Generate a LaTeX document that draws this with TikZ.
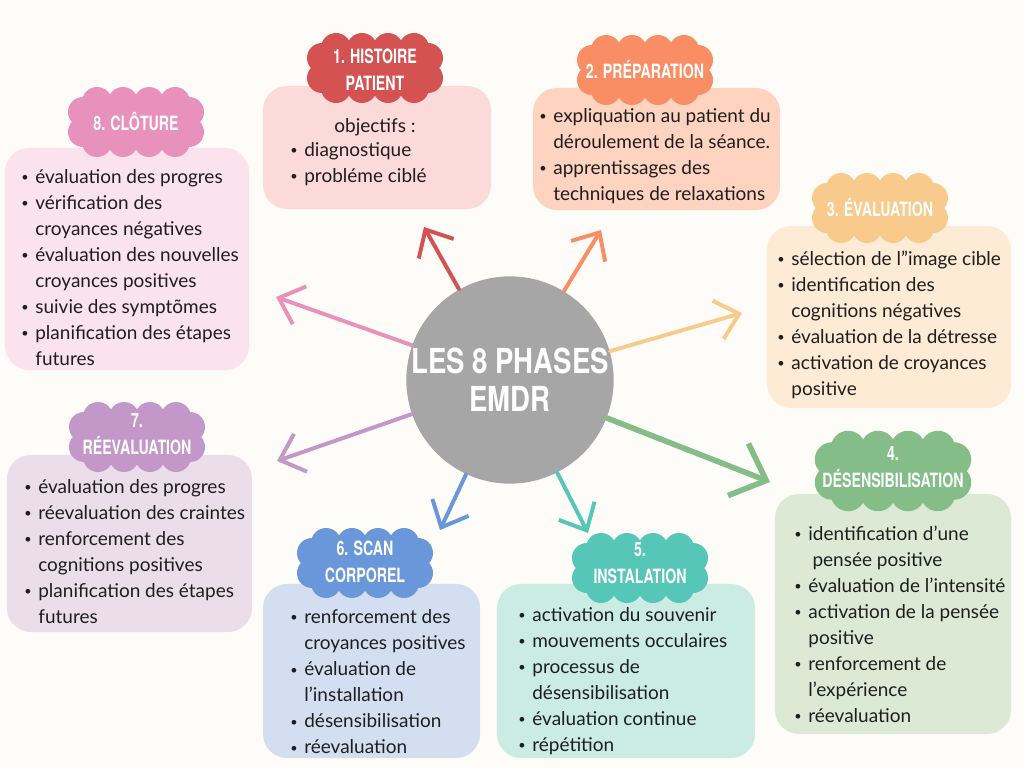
\documentclass[tikz,border=0pt]{standalone}
\usepackage{fontspec}
\setmainfont{Lato}
\newfontfamily\headfont[FakeStretch=0.8]{TeX Gyre Heros}
\newfontfamily\pufffont[FakeStretch=0.72]{TeX Gyre Heros}
\usetikzlibrary{arrows.meta}
\definecolor{bg}{HTML}{FEFCF8}
\definecolor{ink}{HTML}{1E1E1E}
\definecolor{ctrgray}{HTML}{A6A6A6}
\definecolor{redA}{HTML}{D55252}
\definecolor{redB}{HTML}{FCDADA}
\definecolor{orgA}{HTML}{F98E64}
\definecolor{orgB}{HTML}{FED3BF}
\definecolor{yelA}{HTML}{F8CA8C}
\definecolor{yelB}{HTML}{FDEBD5}
\definecolor{grnA}{HTML}{84BD87}
\definecolor{grnB}{HTML}{DCE9D5}
\definecolor{tealA}{HTML}{55C6B8}
\definecolor{tealB}{HTML}{CBECE3}
\definecolor{bluA}{HTML}{6A97D9}
\definecolor{bluB}{HTML}{D3DFF0}
\definecolor{purA}{HTML}{C497C9}
\definecolor{purB}{HTML}{ECDDEA}
\definecolor{pnkA}{HTML}{E991BD}
\definecolor{pnkB}{HTML}{FAE3EC}
\newcommand{\bu}{\makebox[10pt][l]{\raisebox{.1em}{\small\textbullet}}}
\newcommand{\nb}{\hspace*{10pt}}

\begin{document}
\begin{tikzpicture}[x=0.025cm, y=-0.025cm,
  box/.style={rectangle, rounded corners=0.6cm, inner sep=0pt},
  puff/.style={inner sep=0pt, text=white, align=center, font=\pufffont\bfseries\fontsize{14}{19}\selectfont},
  items/.style={anchor=west, align=left, inner sep=0pt, text=ink, font=\fontsize{13.5}{18.5}\selectfont},
  arr/.style={line width=2.8pt, line cap=round, -{Straight Barb[length=5.5mm, width=10mm]}}]
  \fill[bg] (0,0) rectangle (1024,768);
  \useasboundingbox (0,0) rectangle (1024,768);

  \node [circle, fill=ctrgray, minimum size=5cm, inner sep=0pt, text=white, align=center, font=\headfont\bfseries\fontsize{24.5}{27}\selectfont] (ctr) at (510,380) {LES 8 PHASES\\EMDR};

  \coordinate (p1) at (424,227);
  \coordinate (p2) at (601,230);
  \coordinate (p3) at (742,313);
  \coordinate (p4) at (770,482);
  \coordinate (p5) at (588,533);
  \coordinate (p6) at (440,530);
  \coordinate (p7) at (277,461);
  \coordinate (p8) at (276,297);
  \draw [arr, redA] (ctr) -- (p1);
  \draw [arr, orgA] (ctr) -- (p2);
  \draw [arr, yelA] (ctr) -- (p3);
  \draw [arr, grnA, line width=4pt, -{Straight Barb[length=7.5mm, width=14mm]}] (ctr) -- (p4);
  \draw [arr, tealA] (ctr) -- (p5);
  \draw [arr, bluA] (ctr) -- (p6);
  \draw [arr, purA] (ctr) -- (p7);
  \draw [arr, pnkA] (ctr) -- (p8);

  \node [box, fill=redB, minimum width=5.7cm, minimum height=3.075cm] (b1) at (377,147.5) {};
  \node [box, fill=orgB, minimum width=6.175cm, minimum height=3.05cm] (b2) at (656.5,149) {};
  \node [box, fill=yelB, minimum width=6.1cm, minimum height=4.55cm] (b3) at (889,317) {};
  \node [box, fill=grnB, minimum width=5.9cm, minimum height=6cm] (b4) at (893,614) {};
  \node [box, fill=tealB, minimum width=6.45cm, minimum height=4.35cm] (b5) at (626,671) {};
  \node [box, fill=bluB, minimum width=5.425cm, minimum height=4.35cm] (b6) at (371.5,671) {};
  \node [box, fill=purB, minimum width=6.125cm, minimum height=4.425cm] (b7) at (129.5,543.5) {};
  \node [box, fill=pnkB, minimum width=6.1cm, minimum height=5.55cm] (b8) at (127,259) {};

  \foreach \x/\y/\c/\s in {375/68/redA/1, 645/70/orgA/1, 880/208/yelA/1, 893/471/grnA/1.15, 640/568/tealA/1, 365/563/bluA/1, 137/437/purA/1, 136/122/pnkA/1}
  {
    \begin{scope}[shift={(\x,\y)}, scale=\s]
      \fill[\c] (-53,-20) rectangle (53,20);
      \foreach \dx in {-39,-13,13,39}
        \fill[\c] (\dx,-20) circle[radius=15] (\dx,20) circle[radius=15];
      \foreach \dy in {-10,10}
        \fill[\c] (-53,\dy) circle[radius=15] (53,\dy) circle[radius=15];
    \end{scope}
  }
  \node [puff] (t1) at (375,70) {1. HISTOIRE\\PATIENT};
  \node [puff] (t2) at (645,70) {2. PRÉPARATION};
  \node [puff] (t3) at (880,208) {3. ÉVALUATION};
  \node [puff] (t4) at (893,467) {4.\\DÉSENSIBILISATION};
  \node [puff] (t5) at (640,563) {5.\\INSTALATION};
  \node [puff] (t6) at (365,562) {6. SCAN\\CORPOREL};
  \node [puff] (t7) at (137,434) {7.\\RÉEVALUATION};
  \node [puff] (t8) at (136,122) {8. CLÔTURE};

  \node [items, anchor=center] (h1) at (375,127) {objectifs :};
  \node [items] (c1) at (290,164.5) {\bu diagnostique\\\bu probléme ciblé};
  \node [items] (c2) at (539,156.5) {\bu expliquation au patient du\\\nb déroulement de la séance.\\\bu apprentissages des\\\nb techniques de relaxations};
  \node [items] (c3) at (777,324.5) {\bu sélection de l”image cible\\\bu identification des\\\nb cognitions négatives\\\bu évaluation de la détresse\\\bu activation de croyances\\\nb positive};
  \node [items] (c4) at (794,624) {\bu identification d’une\\\nb\hspace*{3pt}pensée positive\\\bu évaluation de l’intensité\\\bu activation de la pensée\\\nb positive\\\bu renforcement de\\\nb l’expérience\\\bu réevaluation};
  \node [items] (c5) at (518,681) {\bu activation du souvenir\\\bu mouvements occulaires\\\bu processus de\\\nb désensibilisation\\\bu évaluation continue\\\bu répétition};
  \node [items] (c6) at (290,682) {\bu renforcement des\\\nb croyances positives\\\bu évaluation de\\\nb l’installation\\\bu désensibilisation\\\bu réevaluation};
  \node [items] (c7) at (24,551.5) {\bu évaluation des progres\\\bu réevaluation des craintes\\\bu renforcement des\\\nb cognitions positives\\\bu planification des étapes\\\nb futures};
  \node [items] (c8) at (21,267.5) {\bu évaluation des progres\\\bu vérification des\\\nb croyances négatives\\\bu évaluation des nouvelles\\\nb croyances positives\\\bu suivie des symptõmes\\\bu planification des étapes\\\nb futures};
\end{tikzpicture}
\end{document}
